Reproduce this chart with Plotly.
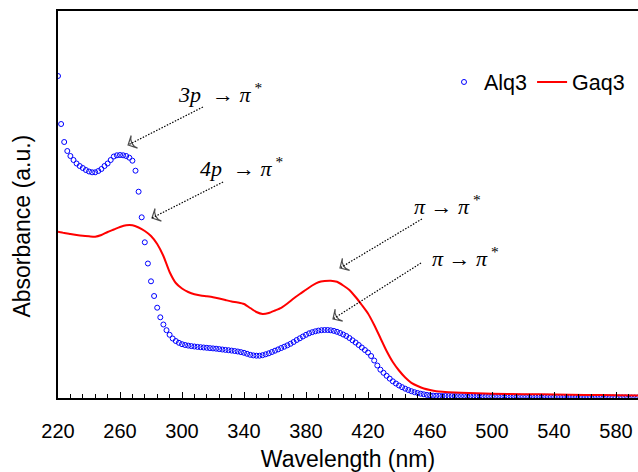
import plotly.graph_objects as go

# Alq3: wavelength 220..600 nm every 2 nm
alq3_wl = list(range(220, 602, 2))
alq3_abs = [
    3.22, 2.74, 2.56, 2.47, 2.42, 2.38, 2.345, 2.32, 2.30, 2.28,
    2.265, 2.257, 2.257, 2.27, 2.29, 2.32, 2.345, 2.38, 2.415, 2.427,
    2.43, 2.427, 2.42, 2.403, 2.373, 2.273, 2.063, 1.807, 1.557, 1.345,
    1.167, 1.02, 0.903, 0.807, 0.735, 0.678, 0.632, 0.595, 0.57, 0.552,
    0.538, 0.53, 0.524, 0.519, 0.515, 0.511, 0.508, 0.505, 0.502, 0.499,
    0.496, 0.493, 0.489, 0.485, 0.481, 0.478, 0.474, 0.47, 0.465, 0.459,
    0.452, 0.442, 0.432, 0.426, 0.423, 0.423, 0.428, 0.437, 0.447, 0.46,
    0.473, 0.486, 0.50, 0.513, 0.527, 0.542, 0.56, 0.58, 0.597, 0.615,
    0.632, 0.647, 0.658, 0.667, 0.674, 0.678, 0.68, 0.68, 0.677, 0.671,
    0.662, 0.65, 0.635, 0.62, 0.60, 0.577, 0.555, 0.53, 0.505, 0.48,
    0.455, 0.42, 0.375, 0.325, 0.283, 0.252, 0.222, 0.194, 0.167, 0.145,
    0.125, 0.108, 0.093, 0.08, 0.068, 0.058, 0.05, 0.043, 0.037, 0.031,
    0.027, 0.024, 0.022, 0.021, 0.02, 0.02, 0.019, 0.019, 0.019, 0.018,
    0.018, 0.018, 0.018, 0.017, 0.017, 0.017, 0.017, 0.016, 0.016, 0.016,
    0.016, 0.015, 0.015, 0.015, 0.015, 0.015, 0.014, 0.014, 0.014, 0.014,
    0.013, 0.013, 0.013, 0.013, 0.012, 0.012, 0.012, 0.012, 0.012, 0.011,
    0.011, 0.011, 0.011, 0.010, 0.010, 0.010, 0.010, 0.009, 0.009, 0.009,
    0.009, 0.008, 0.008, 0.008, 0.008, 0.007, 0.007, 0.007, 0.007, 0.006,
    0.006, 0.006, 0.006, 0.006, 0.005, 0.005, 0.005, 0.005, 0.005, 0.005,
    0.005,
]

# Gaq3
gaq3_wl = [220, 224, 228, 232, 236, 240, 244, 248, 252, 256, 260, 264, 268,
           272, 276, 280, 284, 288, 292, 296, 300, 304, 308, 312, 316, 320,
           324, 328, 332, 336, 340, 344, 348, 352, 356, 360, 364, 368, 372,
           376, 380, 384, 388, 392, 396, 400, 404, 408, 412, 416, 420, 424,
           428, 432, 436, 440, 444, 448, 452, 456, 460, 464, 468, 472, 480,
           490, 500, 520, 540, 560, 580, 600]
gaq3_abs = [1.663, 1.65, 1.64, 1.63, 1.622, 1.617, 1.613, 1.63, 1.66, 1.685,
            1.71, 1.727, 1.727, 1.705, 1.67, 1.62, 1.54, 1.42, 1.26, 1.15,
            1.095, 1.06, 1.037, 1.025, 1.017, 1.008, 0.995, 0.98, 0.965,
            0.955, 0.94, 0.90, 0.86, 0.84, 0.85, 0.875, 0.902, 0.945, 0.995,
            1.04, 1.082, 1.125, 1.158, 1.17, 1.173, 1.162, 1.125, 1.08, 1.01,
            0.93, 0.845, 0.73, 0.60, 0.47, 0.36, 0.275, 0.205, 0.152, 0.12,
            0.095, 0.08, 0.068, 0.062, 0.058, 0.052, 0.047, 0.042, 0.038,
            0.035, 0.031, 0.027, 0.023]

x_ticks = [220, 260, 300, 340, 380, 420, 460, 500, 540, 580]

# Annotations: (label, text x, text y, arrow tail x, tail y, head x, head y)
labels = [
    ("<i>3p</i>  → <i>π</i><sup> *</sup>", 324.5, 3.05, 313.5, 2.91, 265.2, 2.53),
    ("<i>4p</i>  → <i>π</i><sup> *</sup>", 338.7, 2.31, 326.5, 2.16, 280.6, 1.80),
    ("<i>π</i> → <i>π</i><sup> *</sup>", 471.6, 1.93, 454.8, 1.79, 401.9, 1.30),
    ("<i>π</i> → <i>π</i><sup> *</sup>", 483.2, 1.41, 454.2, 1.35, 397.4, 0.79),
]

fig = go.Figure()
fig.add_trace(go.Scatter(
    x=alq3_wl, y=alq3_abs, mode="markers", name="Alq3",
    marker=dict(symbol="circle-open", size=5, color="#0000ff",
                line=dict(width=1, color="#0000ff")),
))
fig.add_trace(go.Scatter(
    x=gaq3_wl, y=gaq3_abs, mode="lines", name="Gaq3",
    line=dict(color="#ff0000", width=2, shape="spline", smoothing=0.6),
))

serif = "Liberation Serif, Times New Roman, serif"
for text, tx, ty, x0, y0, x1, y1 in labels:
    fig.add_annotation(x=tx, y=ty, xref="x", yref="y", text=text,
                       showarrow=False,
                       font=dict(family=serif, size=22, color="black"))
    fig.add_trace(go.Scatter(
        x=[x0, x1], y=[y0, y1], mode="lines+markers", showlegend=False,
        hoverinfo="skip",
        line=dict(color="black", width=1.2, dash="1.5px,1.5px"),
        marker=dict(symbol="arrow-wide-open", size=[0, 10], angleref="previous",
                    color="black", line=dict(width=1.2, color="black")),
    ))

fig.add_annotation(text="Absorbance (a.u.)", xref="paper", yref="paper",
                   x=-0.062, y=0.443, textangle=-90, showarrow=False,
                   xanchor="center", yanchor="middle",
                   font=dict(family="Liberation Sans, Arial", size=23, color="black"))

fig.update_layout(
    width=638, height=472,
    margin=dict(l=58, r=0, t=11, b=74),
    paper_bgcolor="white", plot_bgcolor="white",
    font=dict(family="Liberation Sans, Arial", size=20, color="black"),
    showlegend=True,
    legend=dict(orientation="h", x=(444 - 58) / 580, y=(398 - 82) / 387,
                xanchor="left", yanchor="middle", bgcolor="rgba(0,0,0,0)",
                font=dict(size=21.5), itemwidth=30),
    xaxis=dict(
        range=[220, 220 + 580 / 1.55], tickvals=x_ticks, automargin=False,
        ticks="inside", ticklen=6, tickwidth=1.2, tickcolor="black",
        minor=dict(dtick=8, tick0=220, ticks="inside", ticklen=4,
                   tickwidth=1, tickcolor="black", showgrid=False),
        showline=True, linecolor="black", linewidth=1.5, mirror=True,
        showgrid=False, zeroline=False, ticklabelstandoff=14,
        title=dict(text="Wavelength (nm)", font=dict(size=23), standoff=20),
    ),
    yaxis=dict(
        range=[0, 3.87], showticklabels=False, ticks="", automargin=False,
        showline=True, linecolor="black", linewidth=1.5,
        showgrid=False, zeroline=False,
    ),
)

fig.write_html("out.html")
